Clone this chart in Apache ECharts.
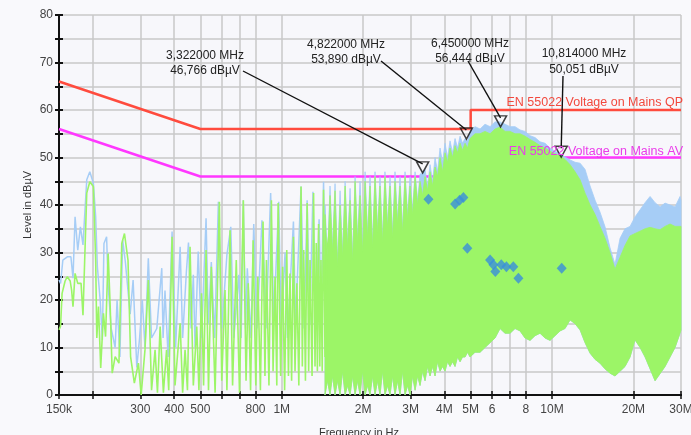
<!DOCTYPE html>
<html><head><meta charset="utf-8">
<script src="https://cdn.jsdelivr.net/npm/echarts@6/dist/echarts.min.js"></script>
<style>html,body{margin:0;padding:0;background:#f9f9fc}#c{width:691px;height:435px}</style>
</head><body><div id="c"></div>
<script>
// ---- axis ticks (frequency in MHz) ----
const xTickValues = [0.15,0.2,0.3,0.4,0.5,0.6,0.7,0.8,1,2,3,4,5,6,7,8,10,20,30];
const xLabelValues = [0.15,0.3,0.4,0.5,0.8,1,2,3,4,5,6,8,10,20,30];
const xLabelTexts = ['150k','300','400','500','800','1M','2M','3M','4M','5M','6','8','10M','20M','30M'];

// ---- limit lines ----
const limitFreq = [0.15,0.5,5,5,30];
const qpLevel = [66,56,56,60,60];
const avLevel = [56,46,46,50,50];

// ---- low-frequency traces (MHz, dBuV) ----
const greenLineFreq = [0.150,0.152,0.154,0.158,0.161,0.165,0.167,0.169,0.172,0.176,0.181,0.184,0.190,0.195,0.201,0.205,0.207,0.210,0.214,0.219,0.223,0.228,0.232,0.236,0.242,0.250,0.256,0.262,0.270,0.276,0.285,0.295,0.302,0.312,0.321,0.330,0.340,0.347,0.355,0.365,0.375,0.382,0.393,0.403,0.421,0.430,0.439,0.448,0.458,0.471,0.485,0.494,0.505,0.514,0.525,0.536,0.549,0.567,0.588,0.600,0.617,0.627,0.644,0.658,0.679,0.698,0.721,0.738,0.752,0.767,0.784,0.802,0.816,0.834,0.853,0.867,0.878,0.897,0.916,0.929,0.945,0.959,0.970,0.991,1.008,1.025,1.044,1.059,1.073,1.088,1.105,1.120,1.138,1.157,1.179,1.192,1.206,1.224,1.242,1.258,1.273,1.295,1.312,1.328,1.342,1.355,1.369,1.383,1.397,1.412,1.428,1.446,1.470,1.504];
const greenLineLevel = [13.7,14.5,21.4,24.0,24.9,24.0,22.1,18.6,25.6,23.5,23.5,16.8,42.5,44.9,43.9,28.4,12.0,18.6,5.7,17.2,12.3,29.8,18.6,4.6,8.1,6.7,31.9,34.0,28.4,8.1,2.5,6.7,0,9.5,24.2,1,9.5,0.5,14.4,0.5,9.5,1,33.3,2,15.1,0.5,9.5,1,31.2,2,14.4,1,21.4,2,30.5,1,27,0.5,40.7,3,22.1,1,34.7,2,28.4,0.5,41,3,23.5,1,32.6,2,24.9,1,36.5,4,28.4,2,41,5,24.9,2,40.4,4,27,1,30.5,4,25.6,3,33.3,5,23.5,2,43.9,6,30.5,3,40.4,5,28.4,4,42.5,6,32,5,36,6,28.4,5,43.2,8,30.5,34.7];
const blueLineFreq = [0.150,0.152,0.155,0.161,0.166,0.169,0.172,0.176,0.180,0.184,0.190,0.195,0.201,0.205,0.208,0.213,0.217,0.220,0.225,0.228,0.234,0.242,0.246,0.252,0.258,0.264,0.275,0.282,0.291,0.298,0.305,0.312,0.321,0.330,0.345,0.360,0.364,0.370,0.380,0.393,0.405,0.421,0.430,0.444,0.452,0.462,0.471,0.478,0.491,0.505,0.525,0.535,0.549,0.565,0.583,0.600,0.627,0.648,0.665,0.694,0.708,0.721,0.735,0.746,0.770,0.788,0.810,0.845,0.860,0.875,0.910,0.935,0.975,0.995,1.029,1.050,1.105,1.125,1.179,1.210,1.242,1.270,1.305,1.335,1.375,1.400,1.428,1.460];
const blueLineLevel = [24.2,23.5,28.4,29.1,29.1,24.6,37.5,30.5,35.4,31.6,45.3,47.0,44.6,37.5,27.0,20.0,11.6,31.9,33.3,23.0,14.0,10.0,20.0,8.0,32.6,28.0,17.0,24.2,5.8,12.0,20.0,10.0,28.8,12.0,14.0,26.7,12.0,22.0,8.0,34.4,10.0,31.2,12.0,26.0,32.1,14.0,25.3,10.0,30.2,12.0,37.2,15.0,28.0,12.0,40.7,14.0,29.5,35.4,12.0,25.3,12.0,41.0,14.0,26.7,12.0,36.0,14.0,36.8,27.4,14.0,42.5,16.0,40.7,14.0,30.0,12.0,36.5,15.0,43.9,14.0,41.0,15.0,42.8,14.0,37.0,16.0,44.9,18.0];

// ---- dense high-frequency region: envelopes ----
const bandFreq = [1.446,1.477,1.509,1.541,1.575,1.609,1.644,1.679,1.716,1.752,1.790,1.829,1.868,1.908,1.949,1.991,2.034,2.078,2.122,2.168,2.214,2.262,2.310,2.360,2.410,2.462,2.516,2.570,2.625,2.682,2.740,2.799,2.859,2.921,2.984,3.048,3.114,3.181,3.249,3.319,3.390,3.463,3.538,3.614,3.692,3.772,3.852,3.935,4.020,4.106,4.195,4.285,4.377,4.472,4.568,4.666,4.767,4.869,4.974,5.190,5.417,5.652,5.898,6.155,6.422,6.702,6.994,7.298,7.615,7.946,8.292,8.653,9.030,9.423,9.833,10.26,10.71,11.17,11.66,12.17,12.70,13.25,13.83,14.43,15.05,15.71,16.39,17.10,17.85,18.62,19.44,20.28,21.17,22.09,23.05,24.05,25.10,26.19,27.33,28.52,29.76,30];
const greenLow = [0,3,0,4,0,3,0,5,0,2,0,4,0,3,0,5,0,2,0,4,0,3,0,5,0,2,0,4,0,3,0,5,0,2,0,4,1,4,2,5,3,6,4,6,4,7,5,6,5,7,6,7,6,8,7,8,8,9,8,9,9,10,11,12,14,13,13,14,13.5,12,11.5,12.5,13,12,11.5,12.5,13.5,14,15.8,15,13.7,11,8.8,7.5,6.7,5.5,4.6,4,5,6,8,11.6,10,8,5.5,3,4.5,6,8,10,13,13.7];
const greenHigh = [38,28,42,30,43,27,40,29,44,31,41,28,45,32,42,30,45,33,44,31,46,34,44,32,46,35,44,33,45,36,44,34,46,37,44,38,46,40,45,42,46,43,47,44,48,46,50,47,51,49,52,50,52.5,51,53,51.5,53,52,54,55,55,55.5,55,56,56.4,55.5,55.5,55,55,54.5,53.8,53.2,52.5,52,51.3,50.8,50.3,49.6,48.5,47,45.3,42.5,40,38,35.5,33,30,26.5,29,31.5,33.5,34,34.5,35,35.3,35,34.8,35.5,36,35.5,35.5,35.5];
const blueHigh = [40,29,44,31,44.5,28,43,30,45,32,43.5,29,46,33,45,31,47,34,46,32,47,35,46,33,47,36,46,34,47,37,46,35,47,38,46,39,47,41,46.5,46.8,47.5,44,48.5,45,50,47,52,49,53,50,53.5,51,54,52,54.5,53,54,53.5,55.5,56.5,56,57,56.5,57.5,57.5,57,56.5,56.5,55.8,55.5,54.6,54.2,53.3,53,52,51.3,50.8,50.1,49.5,49,48.8,47.5,44,41,38.5,35.4,31,27.5,33,35,35.5,37.5,39,40.5,41.8,40.5,39.6,40.4,40,39.6,41.8,41];

// ---- final measurement points (diamonds) ----
const diamondFreq = [3.49,4.38,4.55,4.70,4.86,5.90,6.07,6.17,6.49,6.78,7.19,7.51,10.86];
const diamondLevel = [41.2,40.2,41.0,41.6,30.9,28.4,27.4,26.0,27.4,27.0,27.0,24.6,26.7];

// ---- peak markers ----
const markerFreq = [3.322,4.822,6.450,10.814];
const markerLevel = [46.766,53.890,56.444,50.051];

const zip = (a, b) => a.map((v, i) => [v, b[i]]);
const FONT = '"Liberation Sans", Arial, sans-serif';
const GREEN = '#9cf567', BLUE = '#a6cdf6';

// band polygon drawn through the axis scales (api.coord)
function bandSeries(hi, color, z) {
  return {
    type: 'custom', silent: true, z: z, coordinateSystem: 'cartesian2d',
    data: [[bandFreq[0], hi[0]]],
    renderItem: (params, api) => {
      const pts = [];
      for (let i = 0; i < bandFreq.length; i++) pts.push(api.coord([bandFreq[i], hi[i]]));
      for (let i = bandFreq.length - 1; i >= 0; i--) pts.push(api.coord([bandFreq[i], greenLow[i]]));
      return {type: 'polygon', shape: {points: pts}, style: {fill: color, stroke: color, lineWidth: 0.8}};
    }
  };
}

const chart = echarts.init(document.getElementById('c'), null, {renderer: 'canvas'});
const xLabelFmt = v => { const i = xLabelValues.findIndex(t => Math.abs(t - v) / t < 1e-6); return i >= 0 ? xLabelTexts[i] : ''; };
const xBase = {
  type: 'log', logBase: 10, min: 0.15, max: 30, position: 'bottom',
  axisLine: {show: true, lineStyle: {color: '#111', width: 2}}
};
const yBase = {type: 'value', min: 0, max: 80, interval: 5, position: 'left',
  axisLine: {show: true, lineStyle: {color: '#111', width: 2}}};

chart.setOption({
  animation: false,
  backgroundColor: '#f9f9fc',
  grid: {left: 59, right: 10, top: 15, bottom: 40, show: true, backgroundColor: '#f7f7fb', borderWidth: 0,
         containLabel: false, outerBoundsMode: 'none'},
  xAxis: [
    Object.assign({}, xBase, {
      axisTick: {show: true, customValues: xTickValues, length: 4, lineStyle: {color: '#111', width: 1.5}},
      axisLabel: {customValues: xLabelValues, formatter: xLabelFmt, fontSize: 12, color: '#444', fontFamily: FONT, margin: 9},
      splitLine: {show: true, lineStyle: {color: '#c8c8c8', width: 1.5}},
      name: 'Frequency in Hz', nameLocation: 'middle', nameGap: 32, nameMoveOverlap: false,
      nameTextStyle: {fontSize: 11, color: '#333', fontFamily: FONT, padding: [0, 22, 0, 0]}
    }),
    Object.assign({}, xBase, {
      axisTick: {show: true, inside: true, customValues: xTickValues, length: 4, lineStyle: {color: '#111', width: 1.5}},
      axisLabel: {show: false}, splitLine: {show: false}
    })
  ],
  yAxis: [
    Object.assign({}, yBase, {
      axisTick: {show: true, length: 4, lineStyle: {color: '#111', width: 2}},
      axisLabel: {formatter: v => (v % 10 === 0 ? String(v) : ''), fontSize: 12, color: '#444', fontFamily: FONT, margin: 6},
      splitLine: {show: true, lineStyle: {color: '#c8c8c8', width: 1.5}},
      name: 'Level in dBµV', nameLocation: 'middle', nameGap: 26, nameMoveOverlap: false,
      nameTextStyle: {fontSize: 11, color: '#333', fontFamily: FONT}
    }),
    Object.assign({}, yBase, {
      axisTick: {show: true, inside: true, length: 4, lineStyle: {color: '#111', width: 2}},
      axisLabel: {show: false}, splitLine: {show: false}
    })
  ],
  series: [
    {type: 'line', data: zip(limitFreq, avLevel), showSymbol: false, silent: true, z: 1,
     lineStyle: {color: '#ff38ff', width: 2.5}},
    {type: 'line', data: zip(limitFreq, qpLevel), showSymbol: false, silent: true, z: 1,
     lineStyle: {color: '#ff4b3e', width: 2.5}},
    {type: 'line', data: zip(blueLineFreq, blueLineLevel), showSymbol: false, silent: true, z: 2,
     lineStyle: {color: BLUE, width: 1.5}},
    bandSeries(blueHigh, BLUE, 2),
    {type: 'line', data: zip(greenLineFreq, greenLineLevel), showSymbol: false, silent: true, z: 3,
     lineStyle: {color: GREEN, width: 1.6}},
    bandSeries(greenHigh, GREEN, 3),
    {type: 'scatter', data: zip(diamondFreq, diamondLevel), symbol: 'diamond', symbolSize: [10, 11], z: 4,
     itemStyle: {color: '#3a8edb'}},
    {type: 'scatter', data: zip(markerFreq, markerLevel), symbol: 'triangle', symbolRotate: 180,
     symbolSize: [12, 11], symbolOffset: [0, -5.5], z: 6,
     itemStyle: {color: 'rgba(255,255,255,0.2)', borderColor: '#111', borderWidth: 1.5}}
  ]
});

// annotation layout (pixel positions of the label blocks)
const annLayout = [
  {x: 205, y1: 56, y2: 71, fx: 243, fy: 71},
  {x: 346, y1: 45, y2: 60, fx: 381, fy: 61},
  {x: 470, y1: 44, y2: 59, fx: 468, fy: 61},
  {x: 584, y1: 54, y2: 70, fx: 563, fy: 76}
];
const graphics = [];
markerFreq.forEach((f, i) => {
  const p = chart.convertToPixel({xAxisIndex: 0, yAxisIndex: 0}, [f, markerLevel[i]]);
  const L = annLayout[i];
  const t1 = f.toFixed(6).replace('.', ',') + ' MHz';
  const t2 = markerLevel[i].toFixed(3).replace('.', ',') + ' dBµV';
  graphics.push({type: 'line', z: 100, shape: {x1: L.fx, y1: L.fy, x2: p[0], y2: p[1] - 9},
    style: {stroke: '#111', lineWidth: 1.4}});
  graphics.push({type: 'text', z: 101, x: L.x, y: L.y1,
    style: {text: t1, align: 'center', verticalAlign: 'middle', font: '12px ' + FONT, fill: '#222'}});
  graphics.push({type: 'text', z: 101, x: L.x, y: L.y2,
    style: {text: t2, align: 'center', verticalAlign: 'middle', font: '12px ' + FONT, fill: '#222'}});
});
graphics.push({type: 'text', z: 101, x: 683, y: 103,
  style: {text: 'EN 55022 Voltage on Mains QP', align: 'right', verticalAlign: 'middle', font: '12.5px ' + FONT, fill: '#f2493e'}});
graphics.push({type: 'text', z: 101, x: 683, y: 152,
  style: {text: 'EN 55022 Voltage on Mains AV', align: 'right', verticalAlign: 'middle', font: '12.5px ' + FONT, fill: '#ea3cea'}});
chart.setOption({graphic: graphics});
</script>
</body></html>
